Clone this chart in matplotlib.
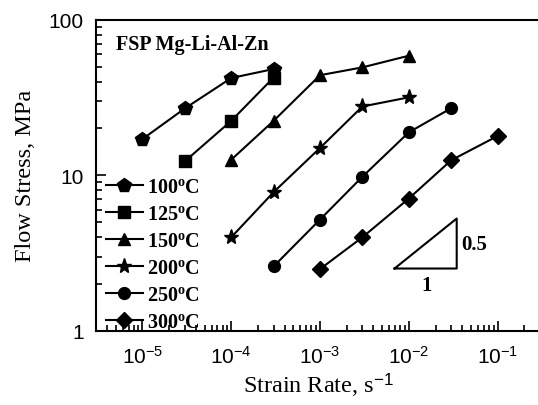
import matplotlib.pyplot as plt
from matplotlib.ticker import LogLocator, NullFormatter, FuncFormatter
import numpy as np

plt.rcParams['font.family'] = 'Liberation Sans'
plt.rcParams['mathtext.fontset'] = 'custom'
plt.rcParams['mathtext.rm'] = 'Liberation Sans'
plt.rcParams['mathtext.it'] = 'Liberation Serif'
plt.rcParams['mathtext.bf'] = 'Liberation Serif:bold'

# strain rate (1/s) and flow stress (MPa) for each temperature
rate_100 = [1e-5, 3e-5, 1e-4, 3e-4]
stress_100 = [17.1, 26.9, 42.2, 48.2]
rate_125 = [3e-5, 1e-4, 3e-4]
stress_125 = [12.3, 22.4, 42.5]
rate_150 = [1e-4, 3e-4, 1e-3, 3e-3, 1e-2]
stress_150 = [12.6, 22.4, 44.0, 49.4, 58.7]
rate_200 = [1e-4, 3e-4, 1e-3, 3e-3, 1e-2]
stress_200 = [4.0, 7.8, 15.0, 27.7, 31.7]
rate_250 = [3e-4, 1e-3, 3e-3, 1e-2, 3e-2]
stress_250 = [2.6, 5.2, 9.8, 18.9, 27.0]
rate_300 = [1e-3, 3e-3, 1e-2, 3e-2, 1e-1]
stress_300 = [2.5, 4.0, 7.1, 12.5, 17.9]

temps = ['100', '125', '150', '200', '250', '300']
markers = ['p', 's', '^', '*', 'o', 'D']
sizes = [10, 8, 9, 11, 8.5, 8]

# slope triangle corners
tri_x = [6.9e-3, 3.46e-2, 3.46e-2, 6.9e-3]
tri_y = [2.52, 2.52, 5.28, 2.52]

fig = plt.figure(figsize=(5.38, 4.06), dpi=100)
ax = fig.add_axes([96 / 538, 74 / 406, 444 / 538, 311.3 / 406])

rates = [rate_100, rate_125, rate_150, rate_200, rate_250, rate_300]
stresses = [stress_100, stress_125, stress_150, stress_200, stress_250, stress_300]
for r, s, t, m, ms in zip(rates, stresses, temps, markers, sizes):
    ax.plot(r, s, color='black', lw=1.5, marker=m, ms=ms,
            label=t + r'$^{\mathbf{o}}$C')

ax.plot(tri_x, tri_y, color='black', lw=1.5)
ax.text(3.9e-2, 3.6, '0.5', fontsize=15, fontweight='bold',
        family='Liberation Serif', va='center', ha='left')
ax.text(1.6e-2, 2.3, '1', fontsize=15, fontweight='bold',
        family='Liberation Serif', va='top', ha='center')

ax.text(0.045, 0.905, 'FSP Mg-Li-Al-Zn', transform=ax.transAxes,
        fontsize=14.5, fontweight='bold', family='Liberation Serif')

ax.set_xscale('log')
ax.set_yscale('log')
ax.set_xlim(3e-6, 3e-1)
ax.set_ylim(1, 100)

ax.xaxis.set_major_locator(LogLocator(base=10, numticks=10))
ax.xaxis.set_minor_locator(LogLocator(base=10, subs=range(2, 10), numticks=10))
ax.xaxis.set_major_formatter(FuncFormatter(
    lambda v, p: r'$\mathrm{10^{%d}}$' % int(round(np.log10(v)))))
ax.xaxis.set_minor_formatter(NullFormatter())
ax.yaxis.set_minor_formatter(NullFormatter())
ax.tick_params(which='both', direction='in', top=False, right=False, width=1.2)
ax.tick_params(which='major', length=7, labelsize=15)
ax.tick_params(axis='x', which='major', pad=10)
ax.tick_params(axis='y', which='major', pad=9)
ax.tick_params(which='minor', length=4)
ax.set_yticks([1, 10, 100])
ax.set_yticklabels(['1', '10', '100'])
for sp in ax.spines.values():
    sp.set_linewidth(1.5)

ax.set_xlabel(r'Strain Rate, s$^{\mathit{-1}}$', fontsize=17.5,
              family='Liberation Serif')
ax.set_ylabel('Flow Stress, MPa', fontsize=17.5, family='Liberation Serif')
ax.xaxis.set_label_coords(0.5, -0.125)
ax.yaxis.set_label_coords(-0.135, 0.5)

leg = ax.legend(loc='lower left', bbox_to_anchor=(0.005, -0.03), frameon=False,
                prop={'family': 'Liberation Serif', 'weight': 'bold', 'size': 14.5},
                handlelength=1.8, handletextpad=0.2, labelspacing=0.35,
                borderaxespad=0)

fig.savefig('out.png', dpi=100)
